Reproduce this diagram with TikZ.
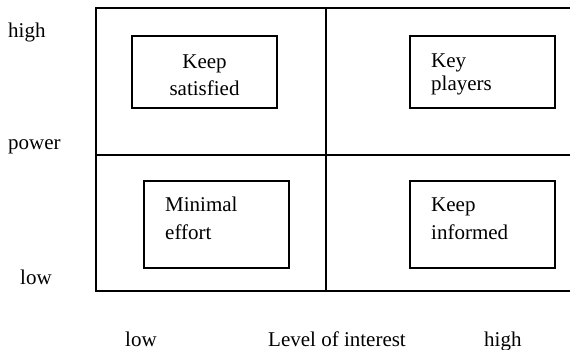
\documentclass[tikz,border=0pt]{standalone}
\usepackage{fontspec}
\setmainfont{Liberation Serif}
\usepackage{tikz}

\tikzset{
  quad/.style={draw, line width=1.2pt, minimum width=145pt, minimum height=72pt, inner sep=0pt},
  lbl/.style={font=\fontsize{21}{25}\selectfont, inner sep=0pt}
}

\begin{document}
\begin{tikzpicture}[x=1pt,y=-1pt]
  \useasboundingbox (0,0) rectangle (570,349);
  \draw[line width=1.3pt] (96,8) rectangle (576,291);
  \draw[line width=1.3pt] (326,8) -- (326,291);
  \draw[line width=1.3pt] (96,155) -- (576,155);
  \node[quad] (satisfied) at (204.5,72) {};
  \node[quad] (players) at (482.5,72) {};
  \node[quad, minimum height=87pt] (minimal) at (216.5,224.5) {};
  \node[quad, minimum height=87pt] (informed) at (482.5,224.5) {};
  \node[lbl, anchor=base] (satA) at (204.5,68) {Keep};
  \node[lbl, anchor=base] (satB) at (204.5,95) {satisfied};
  \node[lbl, anchor=base west] (plaA) at (431,67) {Key};
  \node[lbl, anchor=base west] (plaB) at (431,90) {players};
  \node[lbl, anchor=base west] (minA) at (165,211) {Minimal};
  \node[lbl, anchor=base west] (minB) at (165,239) {effort};
  \node[lbl, anchor=base west] (infA) at (431,211) {Keep};
  \node[lbl, anchor=base west] (infB) at (431,239) {informed};
  \node[lbl, anchor=base west] (powhigh) at (8,37) {high};
  \node[lbl, anchor=base west] (power) at (8,149) {power};
  \node[lbl, anchor=base west] (powlow) at (20,284) {low};
  \node[lbl, anchor=base west] (intlow) at (125,346) {low};
  \node[lbl, anchor=base west] (interest) at (268,346) {Level of interest};
  \node[lbl, anchor=base west] (inthigh) at (484,346) {high};
\end{tikzpicture}
\end{document}
